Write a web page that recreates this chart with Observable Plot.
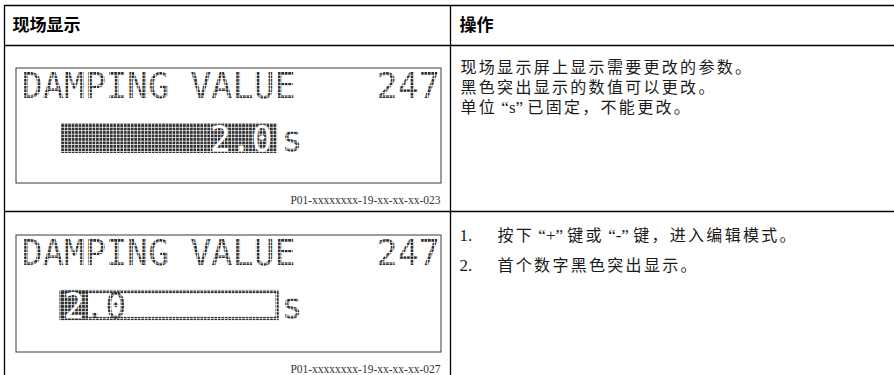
<!DOCTYPE html>
<html>
<head>
<meta charset="utf-8">
<script src="https://cdn.jsdelivr.net/npm/d3@7"></script>
<script src="https://cdn.jsdelivr.net/npm/@observablehq/plot@0.6"></script>
<style>
  html, body { margin: 0; padding: 0; background: #fff; }
</style>
</head>
<body>
<div id="chart"></div>
<script>
// ---------- data ----------
const headers = ["现场显示", "操作"];
const lcdTitles = ["DAMPING VALUE", "DAMPING VALUE"];
const lcdCodes = ["247", "247"];
const lcdValues = ["2.0", "2.0"];
const lcdUnits = ["s", "s"];
const editModes = ["all", "firstDigit"];
const figureIds = ["P01-xxxxxxxx-19-xx-xx-xx-023", "P01-xxxxxxxx-19-xx-xx-xx-027"];
const row1Lines = [
  "现场显示屏上显示需要更改的参数。",
  "黑色突出显示的数值可以更改。",
  "单位 “s” 已固定，不能更改。"
];
const row2Steps = [
  "按下 “+” 键或 “-” 键，进入编辑模式。",
  "首个数字黑色突出显示。"
];

// ---------- layout ----------
const W = 894, H = 375;
const grid = {left: 4, split: 450, top: 5, headBottom: 45, rowSplit: 211};
const headerX = [12, 459];
const boxes = [{x1: 16, x2: 441, y1: 68, y2: 183}, {x1: 16, x2: 441, y1: 235, y2: 352}];
const pitch = 20.9;
const cellCenter = i => 31.7 + pitch * i;
const lcdFont = "DejaVu Sans Mono";
const lcdSize = 35;
const textX = 460, stepNumX = 459, stepTextX = 497;
const bodySize = 16;

const rows = lcdTitles.map((title, i) => ({
  i, title, code: lcdCodes[i], value: lcdValues[i], unit: lcdUnits[i],
  mode: editModes[i], fig: figureIds[i], ...boxes[i]
}));

// per-character value cells
const chars = rows.flatMap(r => {
  const start = r.mode === "all" ? 12 - r.value.length : 2;
  return Array.from(r.value, (ch, k) => ({
    ch, x: cellCenter(start + k), y: r.y1 + 82,
    white: r.mode === "all" || k === 0
  }));
});
const bars = rows.map(r => ({
  mode: r.mode,
  x1: cellCenter(2) - 12.5, x2: cellCenter(11) + 15.5,
  y1: r.y1 + 55, y2: r.y1 + 85
}));
const cursor = rows.filter(r => r.mode === "firstDigit").map(r => ({
  x1: cellCenter(2) - 12.5, x2: cellCenter(2) + 14.5, y1: r.y1 + 55, y2: r.y1 + 85
}));

const body1 = [{t: row1Lines.join("\n"), y: 58.7}];
const body2 = row2Steps.map((t, k) => ({t, n: `${k + 1}.`, y: 235.5 + 30 * k}));

const chart = Plot.plot({
  width: W, height: H, margin: 0,
  x: {type: "identity", axis: null},
  y: {type: "identity", axis: null},
  style: {background: "#fff"},
  marks: [
    // table lines
    Plot.ruleY([grid.top, grid.headBottom, grid.rowSplit], {y: d => d, x1: grid.left, x2: W, stroke: "#000", strokeWidth: 1.3}),
    Plot.ruleX([grid.left, grid.split], {x: d => d, y1: grid.top, y2: H, stroke: "#000", strokeWidth: 1.3}),
    // headers
    Plot.text(headers, {x: (d, i) => headerX[i], y: 25, text: d => d, textAnchor: "start", lineAnchor: "middle",
      fontFamily: "Noto Sans CJK SC", fontWeight: "bold", fontSize: 17, fill: "#000"}),
    // LCD frames
    Plot.rect(rows, {x1: "x1", x2: "x2", y1: "y1", y2: "y2", fill: "#fff", stroke: "#3a3a3a", strokeWidth: 1}),
    // LCD title lines
    Plot.text(rows, {x: r => cellCenter(0) - 10.5, y: r => r.y1 + 29, text: "title", textAnchor: "start", lineAnchor: "bottom",
      fontFamily: lcdFont, fontSize: lcdSize, fill: "url(#lcd)"}),
    Plot.text(rows, {x: r => cellCenter(19) + 10.5, y: r => r.y1 + 29, text: "code", textAnchor: "end", lineAnchor: "bottom",
      fontFamily: lcdFont, fontSize: lcdSize, fill: "url(#lcd)"}),
    // value bars
    Plot.rect(bars.filter(b => b.mode === "all"), {x1: "x1", x2: "x2", y1: "y1", y2: "y2", fill: "url(#lcd)"}),
    Plot.rect(bars.filter(b => b.mode !== "all"), {x1: "x1", x2: "x2", y1: d => d.y1 + 1.5, y2: d => d.y2 - 1.5, fill: "none", stroke: "url(#lcd)", strokeWidth: 3.2}),
    Plot.rect(cursor, {x1: "x1", x2: "x2", y1: "y1", y2: "y2", fill: "url(#lcd)"}),
    // value characters
    Plot.text(chars, {x: "x", y: "y", text: "ch", textAnchor: "middle", lineAnchor: "bottom",
      fontFamily: lcdFont, fontSize: lcdSize, fill: d => d.white ? "#fff" : "url(#lcd)"}),
    // unit
    Plot.text(rows, {x: r => cellCenter(11) + 30, y: r => r.y1 + 82, text: "unit", textAnchor: "middle", lineAnchor: "bottom",
      fontFamily: lcdFont, fontSize: lcdSize, fill: "url(#lcd)"}),
    // figure ids
    Plot.text(rows, {x: r => r.x2 - 1, y: r => r.y2 + 20, text: "fig", textAnchor: "end", lineAnchor: "bottom",
      fontFamily: "Liberation Serif", fontSize: 11.5, fill: "#333"}),
    // right column text (row 1: one multi-line block)
    Plot.text(body1, {x: textX, y: "y", text: "t", textAnchor: "start", lineAnchor: "top", lineHeight: 20 / bodySize,
      fontFamily: "Noto Sans CJK SC", fontSize: bodySize, fill: "#1a1a1a", className: "body-text"}),
    Plot.text(body2, {x: stepNumX, y: "y", text: "n", textAnchor: "start", lineAnchor: "middle",
      fontFamily: "Liberation Serif", fontSize: 17, fill: "#1a1a1a"}),
    Plot.text(body2, {x: stepTextX, y: "y", text: "t", textAnchor: "start", lineAnchor: "middle",
      fontFamily: "Noto Sans CJK SC", fontSize: bodySize, fill: "#1a1a1a", className: "body-text"})
  ]
});

const svg = d3.select(chart);

// split mixed CJK / Latin text into runs: CJK spaced wide, Latin in serif
const cjkRe = /[\u3000-\u303f\u3400-\u9fff\uff00-\uffef]/;
const runRe = /[\u3000-\u303f\u3400-\u9fff\uff00-\uffef]+|[^\u3000-\u303f\u3400-\u9fff\uff00-\uffef]+/g;
function splitRuns(el) {
  const t = el.textContent;
  const runs = t.match(runRe) || [];
  el.textContent = "";
  const sel = d3.select(el);
  for (const r of runs) {
    const cjk = cjkRe.test(r);
    sel.append("tspan").text(r)
      .attr("font-family", cjk ? "Noto Sans CJK SC" : "Liberation Serif")
      .attr("font-size", cjk ? bodySize : bodySize + 1)
      .attr("letter-spacing", cjk ? 2.3 : 0);
  }
}
svg.selectAll(".body-text text").each(function() {
  const lines = Array.from(this.children).filter(c => c.tagName.toLowerCase() === "tspan");
  if (lines.length) lines.forEach(splitRuns);
  else splitRuns(this);
});

// LCD dot-matrix pattern
const pat = svg.insert("defs", ":first-child").append("pattern")
  .attr("id", "lcd").attr("patternUnits", "userSpaceOnUse")
  .attr("x", 23).attr("y", 72).attr("width", 3.48).attr("height", 3.48);
pat.append("rect").attr("width", 2.75).attr("height", 2.75).attr("fill", "#2e2e2e");

document.getElementById("chart").appendChild(chart);
</script>
</body>
</html>
